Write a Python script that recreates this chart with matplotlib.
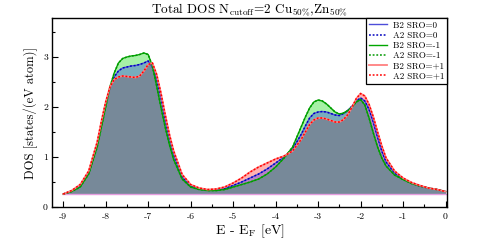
import matplotlib
matplotlib.use("Agg")
import matplotlib.pyplot as plt
from matplotlib.ticker import MultipleLocator

plt.rcParams['font.family'] = ['cmr10', 'DejaVu Serif']
plt.rcParams['mathtext.fontset'] = 'cm'
plt.rcParams['axes.unicode_minus'] = False
plt.rcParams['axes.formatter.use_mathtext'] = False

energy = [-9.0, -8.8, -8.6, -8.4,
          -8.2, -8.1, -8.0, -7.9, -7.8, -7.7, -7.6, -7.5, -7.4, -7.3,
          -7.2, -7.1, -7.0, -6.9, -6.8, -6.7, -6.6, -6.5, -6.4,
          -6.2, -6.0, -5.8, -5.6, -5.4, -5.2, -5.0, -4.8, -4.6, -4.4,
          -4.2, -4.0, -3.8, -3.6,
          -3.4, -3.3, -3.2, -3.1, -3.0, -2.9, -2.8, -2.7, -2.6, -2.5,
          -2.4, -2.3, -2.2, -2.1, -2.0, -1.9, -1.8, -1.7, -1.6, -1.5, -1.4,
          -1.2, -1.0, -0.8, -0.6, -0.4, -0.2, 0.0]

b2_sro0 = [0.26, 0.32, 0.42, 0.68,
           1.25, 1.65, 2.05, 2.38, 2.6, 2.72, 2.78, 2.8, 2.82, 2.83,
           2.85, 2.88, 2.92, 2.8, 2.55, 2.2, 1.75, 1.38, 1.05,
           0.6, 0.42, 0.36, 0.34, 0.34, 0.37, 0.43, 0.5, 0.58, 0.66,
           0.76, 0.88, 1.0, 1.16,
           1.45, 1.62, 1.78, 1.87, 1.9, 1.91, 1.9, 1.87, 1.84, 1.83,
           1.87, 1.93, 2.02, 2.12, 2.18, 2.12, 1.95, 1.7, 1.4, 1.12, 0.9,
           0.68, 0.56, 0.48, 0.42, 0.38, 0.35, 0.31]
a2_sro0 = [0.26, 0.32, 0.42, 0.68,
           1.25, 1.65, 2.05, 2.38, 2.6, 2.72, 2.78, 2.8, 2.82, 2.83,
           2.85, 2.88, 2.92, 2.8, 2.55, 2.2, 1.75, 1.38, 1.05,
           0.6, 0.42, 0.36, 0.34, 0.34, 0.37, 0.43, 0.5, 0.58, 0.66,
           0.76, 0.88, 1.0, 1.16,
           1.45, 1.62, 1.78, 1.87, 1.9, 1.91, 1.9, 1.87, 1.84, 1.83,
           1.87, 1.93, 2.02, 2.12, 2.18, 2.12, 1.95, 1.7, 1.4, 1.12, 0.9,
           0.68, 0.56, 0.48, 0.42, 0.38, 0.35, 0.31]
b2_srom1 = [0.26, 0.31, 0.4, 0.66,
            1.2, 1.6, 2.0, 2.4, 2.68, 2.88, 2.97, 3.0, 3.02, 3.03,
            3.05, 3.08, 3.05, 2.82, 2.42, 2.0, 1.6, 1.25, 0.95,
            0.56, 0.4, 0.35, 0.33, 0.33, 0.35, 0.4, 0.45, 0.5, 0.56,
            0.66, 0.8, 0.98, 1.2,
            1.6, 1.8, 1.98, 2.1, 2.14, 2.12, 2.06, 1.98, 1.9, 1.86,
            1.88, 1.93, 2.0, 2.1, 2.15, 2.04, 1.78, 1.48, 1.2, 0.98, 0.82,
            0.64, 0.55, 0.47, 0.42, 0.38, 0.35, 0.31]
a2_srom1 = [0.26, 0.31, 0.4, 0.66,
            1.2, 1.6, 2.0, 2.4, 2.68, 2.88, 2.97, 3.0, 3.02, 3.03,
            3.05, 3.08, 3.05, 2.82, 2.42, 2.0, 1.6, 1.25, 0.95,
            0.56, 0.4, 0.35, 0.33, 0.33, 0.35, 0.4, 0.45, 0.5, 0.56,
            0.66, 0.8, 0.98, 1.2,
            1.6, 1.8, 1.98, 2.1, 2.14, 2.12, 2.06, 1.98, 1.9, 1.86,
            1.88, 1.93, 2.0, 2.1, 2.15, 2.04, 1.78, 1.48, 1.2, 0.98, 0.82,
            0.64, 0.55, 0.47, 0.42, 0.38, 0.35, 0.31]
b2_srop1 = [0.26, 0.33, 0.45, 0.72,
            1.3, 1.72, 2.1, 2.4, 2.55, 2.6, 2.62, 2.61, 2.6, 2.59,
            2.62, 2.72, 2.85, 2.88, 2.65, 2.28, 1.85, 1.45, 1.12,
            0.65, 0.45, 0.38, 0.35, 0.36, 0.4, 0.48, 0.58, 0.7, 0.8,
            0.88, 0.96, 1.02, 1.12,
            1.35, 1.5, 1.65, 1.74, 1.78, 1.78, 1.76, 1.73, 1.7, 1.7,
            1.75, 1.85, 2.0, 2.17, 2.27, 2.22, 2.05, 1.8, 1.5, 1.22, 0.98,
            0.72, 0.58, 0.49, 0.43, 0.38, 0.35, 0.31]
a2_srop1 = [0.26, 0.33, 0.45, 0.72,
            1.3, 1.72, 2.1, 2.4, 2.55, 2.6, 2.62, 2.61, 2.6, 2.59,
            2.62, 2.72, 2.85, 2.88, 2.65, 2.28, 1.85, 1.45, 1.12,
            0.65, 0.45, 0.38, 0.35, 0.36, 0.4, 0.48, 0.58, 0.7, 0.8,
            0.88, 0.96, 1.02, 1.12,
            1.35, 1.5, 1.65, 1.74, 1.78, 1.78, 1.76, 1.73, 1.7, 1.7,
            1.75, 1.85, 2.0, 2.17, 2.27, 2.22, 2.05, 1.8, 1.5, 1.22, 0.98,
            0.72, 0.58, 0.49, 0.43, 0.38, 0.35, 0.31]
baseline = 0.26

labels = ['B2 SRO=0', 'A2 SRO=0', 'B2 SRO=-1', 'A2 SRO=-1', 'B2 SRO=+1', 'A2 SRO=+1']

fig = plt.figure(figsize=(4.83, 2.43), dpi=100)
ax = fig.add_axes([0.108, 0.148, 0.818, 0.778])

# fills (red, green, blue order for the bluish-grey overlap)
ax.fill_between(energy, baseline, b2_srop1, color=(1, 0, 0), alpha=0.3, lw=0)
ax.fill_between(energy, baseline, b2_srom1, color=(0, 0.85, 0), alpha=0.35, lw=0)
ax.fill_between(energy, baseline, b2_sro0, color=(0, 0, 1), alpha=0.28, lw=0)
ax.plot([energy[0], energy[-1]], [baseline, baseline], color=(0.9, 0.62, 0.88), lw=1.0)

# lines
dots = (0, (1.2, 1.2))
ax.plot(energy, b2_sro0, color=(0.3, 0.3, 0.85), lw=1.0, label=labels[0])
ax.plot(energy, a2_sro0, color=(0, 0, 0.75), lw=1.1, ls=dots, label=labels[1])
ax.plot(energy, b2_srom1, color=(0, 0.65, 0), lw=1.0, label=labels[2])
ax.plot(energy, a2_srom1, color=(0, 0.6, 0), lw=1.1, ls=dots, label=labels[3])
ax.plot(energy, b2_srop1, color=(1, 0.5, 0.5), lw=1.3, label=labels[4])
ax.plot(energy, a2_srop1, color=(1, 0, 0), lw=1.1, ls=dots, label=labels[5])

ax.set_xlim(-9.26, 0.04)
ax.set_ylim(0, 3.78)
ax.xaxis.set_major_locator(MultipleLocator(1))
ax.xaxis.set_minor_locator(MultipleLocator(0.5))
ax.yaxis.set_major_locator(MultipleLocator(1))
ax.yaxis.set_minor_locator(MultipleLocator(0.5))
ax.tick_params(which='both', direction='in', top=False, right=False, labelsize=7)
ax.tick_params(which='major', length=4, width=0.8, pad=4)
ax.tick_params(which='minor', length=2.5, width=0.8)
ax.tick_params(axis='y', which='major', pad=3)
for s in ax.spines.values():
    s.set_linewidth(1.0)

ax.set_title(r'Total DOS N$_{\mathrm{cutoff}}$=2 Cu$_{50\%}$,Zn$_{50\%}$', fontsize=9.5, pad=2)
ax.set_xlabel(r'E - E$_{\mathrm{F}}$ [eV]', fontsize=10, labelpad=1)
ax.set_ylabel('DOS [states/(eV atom)]', fontsize=9, labelpad=4)

leg = ax.legend(loc='upper right', borderaxespad=0, fontsize=6.5, fancybox=False,
                framealpha=1, edgecolor='black', handlelength=2.0, handletextpad=0.6,
                labelspacing=0.2, borderpad=0.35)
leg.get_frame().set_linewidth(0.9)

fig.savefig('out.png', dpi=100)
